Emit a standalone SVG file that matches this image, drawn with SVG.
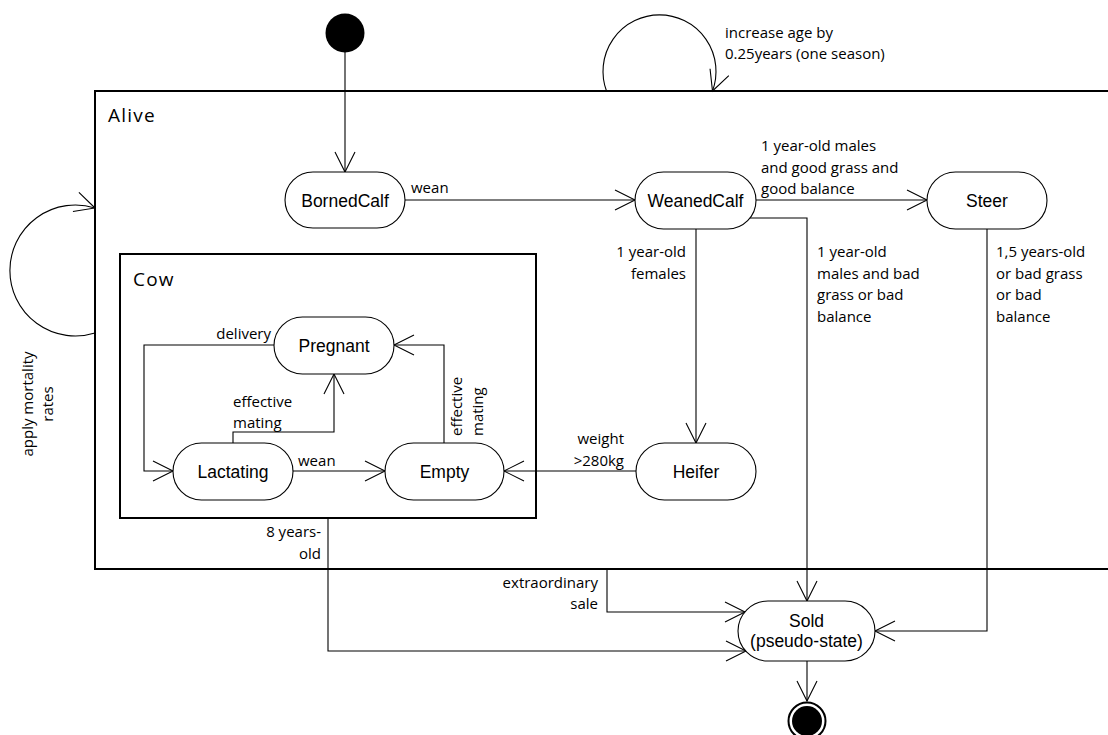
<svg xmlns="http://www.w3.org/2000/svg" width="1108" height="735" viewBox="0 0 1108 735">
  <style>
    .frame { fill: none; stroke: #000; stroke-width: 2; }
    .state rect { fill: #fff; stroke: #000; stroke-width: 1.1; }
    .state text { font-family: "Liberation Sans", Arial, sans-serif; font-size: 17.5px; fill: #000; text-anchor: middle; }
    .edge { fill: none; stroke: #000; stroke-width: 1.1; marker-end: url(#open-arrow); }
    .lbl { font-family: "Open Sans", "Noto Sans", sans-serif; font-size: 15px; fill: #000; }
    .end { text-anchor: end; }
    .title { font-family: "Open Sans", "Noto Sans", sans-serif; font-size: 19px; letter-spacing: 1.2px; fill: #000; }
  </style>
  <defs>
    <marker id="open-arrow" markerUnits="userSpaceOnUse" viewBox="-22 -12 24 24" refX="0" refY="0" markerWidth="24" markerHeight="24" orient="auto">
      <path d="M-20,-10 L0,0 L-20,10" fill="none" stroke="#000" stroke-width="1.1"/>
    </marker>
  </defs>

  <rect width="1108" height="735" fill="#fff"/>

  <!-- composite states -->
  <g id="alive">
    <rect class="frame" x="95" y="91" width="1100" height="478"/>
    <text class="title" x="108" y="122">Alive</text>
  </g>
  <g id="cow">
    <rect class="frame" x="120" y="254" width="416" height="264"/>
    <text class="title" x="133" y="286">Cow</text>
  </g>

  <!-- transitions -->
  <g id="connectors">
    <path class="edge" d="M345,52 L345,172"/>
    <path class="edge" d="M405,200 L635,200"/>
    <path class="edge" d="M756,200 L927,200"/>
    <path class="edge" d="M750,218 L807,218 L807,601"/>
    <path class="edge" d="M696,229 L696,443"/>
    <path class="edge" d="M987,229 L987,631 L875,631"/>
    <path class="edge" d="M636,471 L504,471"/>
    <path class="edge" d="M328,518 L328,651 L746,651"/>
    <path class="edge" d="M607,569 L607,612 L745,612"/>
    <path class="edge" d="M807,661 L807,701"/>
    <path class="edge" d="M274,345 L144,345 L144,471 L173,471"/>
    <path class="edge" d="M233,443 L233,432 L334,432 L334,374"/>
    <path class="edge" d="M293,471 L385,471"/>
    <path class="edge" d="M444,443 L444,345 L394,345"/>
    <path class="edge" d="M606.5,91 A56.5,56.5 0 1 1 712.5,91"/>
    <path class="edge" d="M95,333 A65.5,65.5 0 1 1 95,208"/>

    <text class="lbl" x="411" y="193">wean</text>
    <text class="lbl" x="761" y="151">1 year-old males</text>
    <text class="lbl" x="761" y="172.5">and good grass and</text>
    <text class="lbl" x="761" y="194">good balance</text>
    <text class="lbl" x="817" y="257">1 year-old</text>
    <text class="lbl" x="817" y="278.5">males and bad</text>
    <text class="lbl" x="817" y="300">grass or bad</text>
    <text class="lbl" x="817" y="321.5">balance</text>
    <text class="lbl" x="996" y="257">1,5 years-old</text>
    <text class="lbl" x="996" y="278.5">or bad grass</text>
    <text class="lbl" x="996" y="300">or bad</text>
    <text class="lbl" x="996" y="321.5">balance</text>
    <text class="lbl end" x="686" y="257">1 year-old</text>
    <text class="lbl end" x="686" y="278.5">females</text>
    <text class="lbl end" x="624" y="444">weight</text>
    <text class="lbl end" x="624" y="466">&gt;280kg</text>
    <text class="lbl end" x="271" y="339">delivery</text>
    <text class="lbl" x="233" y="407">effective</text>
    <text class="lbl" x="233" y="428">mating</text>
    <text class="lbl" x="298" y="466">wean</text>
    <text class="lbl" transform="translate(462,436) rotate(-90)">effective</text>
    <text class="lbl" transform="translate(483,436) rotate(-90)">mating</text>
    <text class="lbl end" x="321" y="537">8 years-</text>
    <text class="lbl end" x="321" y="559">old</text>
    <text class="lbl end" x="598" y="588">extraordinary</text>
    <text class="lbl end" x="598" y="609">sale</text>
    <text class="lbl" x="725" y="38">increase age by</text>
    <text class="lbl" x="725" y="59">0.25years (one season)</text>
    <text class="lbl" text-anchor="middle" transform="translate(33,404) rotate(-90)">apply mortality</text>
    <text class="lbl" text-anchor="middle" transform="translate(53,404) rotate(-90)">rates</text>
  </g>

  <!-- pseudo states -->
  <g id="initial">
    <circle cx="345" cy="33" r="19.5" fill="#000"/>
  </g>
  <g id="final">
    <circle cx="807" cy="721" r="18.5" fill="#fff" stroke="#000" stroke-width="2"/>
    <circle cx="807" cy="721" r="15" fill="#000"/>
  </g>

  <!-- simple states -->
  <g id="borned-calf" class="state">
    <rect x="285" y="172" width="120" height="56" rx="28"/>
    <text x="345" y="206.5">BornedCalf</text>
  </g>
  <g id="weaned-calf" class="state">
    <rect x="635" y="172" width="121" height="57" rx="28.5"/>
    <text x="695.5" y="207">WeanedCalf</text>
  </g>
  <g id="steer" class="state">
    <rect x="927" y="172" width="120" height="57" rx="28.5"/>
    <text x="987" y="207">Steer</text>
  </g>
  <g id="heifer" class="state">
    <rect x="636" y="443" width="120" height="57" rx="28.5"/>
    <text x="696" y="478">Heifer</text>
  </g>
  <g id="pregnant" class="state">
    <rect x="274" y="317" width="120" height="57" rx="28.5"/>
    <text x="334" y="352">Pregnant</text>
  </g>
  <g id="lactating" class="state">
    <rect x="173" y="443" width="120" height="57" rx="28.5"/>
    <text x="233" y="478">Lactating</text>
  </g>
  <g id="empty" class="state">
    <rect x="385" y="443" width="119" height="57" rx="28.5"/>
    <text x="444.5" y="478">Empty</text>
  </g>
  <g id="sold" class="state">
    <rect x="738" y="601" width="137" height="60" rx="30"/>
    <text x="806.5" y="627">Sold</text>
    <text x="806.5" y="647">(pseudo-state)</text>
  </g>
</svg>
